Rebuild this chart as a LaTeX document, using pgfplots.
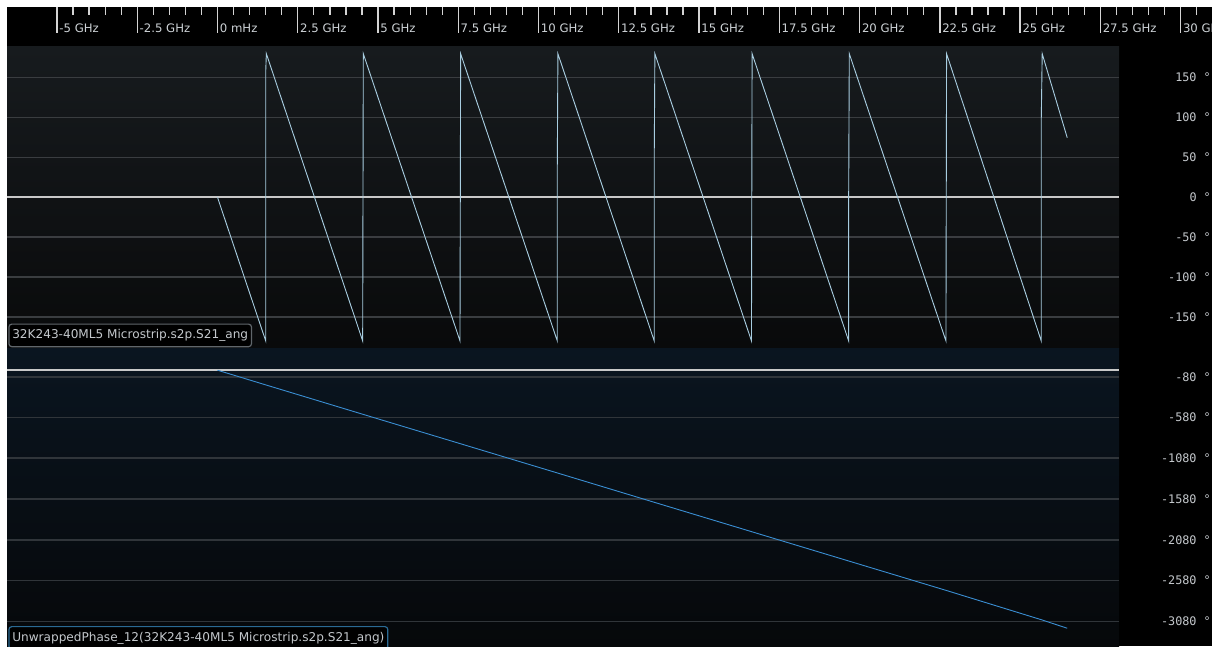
\documentclass[border=0pt]{standalone}
\usepackage{pgfplots}
\pgfplotsset{compat=1.18}
\usepackage{fontspec}
\setmainfont{DejaVu Sans}
\newfontfamily\monofont{DejaVu Sans Mono}
\definecolor{tickgray}{HTML}{D4D4D4}
\definecolor{rulertext}{HTML}{CDD2D6}
\definecolor{labgray}{HTML}{C4C8CC}
\definecolor{topA}{HTML}{171B1E}
\definecolor{topB}{HTML}{090A0B}
\definecolor{botA}{HTML}{0A1520}
\definecolor{botB}{HTML}{06080A}
\definecolor{grid1}{HTML}{3A3D40}
\definecolor{grid2}{HTML}{30353A}
\definecolor{zeroline}{HTML}{C8C8C8}
\definecolor{wrapc}{HTML}{A8CDE0}
\definecolor{unwrapc}{HTML}{3A8ED2}
\definecolor{leg1}{HTML}{60666B}
\definecolor{leg2}{HTML}{2A6A94}
\newcommand\rulerfs{\fontsize{11.7pt}{14pt}\selectfont}
\newcommand\legfs{\fontsize{12.1pt}{14pt}\selectfont}
\newcommand\yfs{\monofont\fontsize{11.8pt}{14pt}\selectfont}
\pgfplotsset{
  panel/.style={
    scale only axis, width=1112pt, xmin=-6.558, xmax=28.087,
    axis line style={draw=none}, xtick=\empty,
    ytick pos=right, yticklabel pos=right,
    major tick length=0pt, tick style={draw=none},
    ymajorgrids, clip=true,
    yticklabel style={anchor=east, xshift=92pt, inner sep=0pt, font=\yfs, text=labgray},
  }
}
\begin{document}
\begin{tikzpicture}
\path[use as bounding box] (0pt,0pt) rectangle (1212pt,-646pt);
\fill[white] (0pt,0pt) rectangle (1212pt,-646pt);
\fill[black] (1119pt,-46.7pt) rectangle (1212pt,-646pt);
% ruler
\begin{axis}[at={(7pt,-6.7pt)}, anchor=north west, scale only axis,
  width=1205pt, height=40pt, xmin=-6.558, xmax=30.978, ymin=0, ymax=1,
  axis line style={draw=none}, axis background/.style={fill=black},
  ytick=\empty,
  xtick={-5,-2.5,0,2.5,5,7.5,10,12.5,15,17.5,20,22.5,25,27.5,30},
  xticklabels={-5 GHz,-2.5 GHz,0 mHz,2.5 GHz,5 GHz,7.5 GHz,10 GHz,12.5 GHz,15 GHz,17.5 GHz,20 GHz,22.5 GHz,25 GHz,27.5 GHz,30 GHz},
  minor xtick={-4.5,-4,...,31},
  xtick pos=right, xticklabel pos=right, tick align=inside,
  major tick length=26.3pt, minor tick length=8.5pt,
  tick style={draw=tickgray, line width=1.3pt},
  xticklabel style={anchor=base west, inner sep=0pt, xshift=2.2pt, yshift=-25.6pt, font=\rulerfs, text=rulertext},
]
\addplot[draw=none] coordinates {(0,0.5)};
\end{axis}
% top panel: wrapped phase
\begin{axis}[panel, at={(7pt,-46.7pt)}, anchor=north west, height=301.6pt,
  ymin=-189.3, ymax=188.8,
  axis background/.style={top color=topA, bottom color=topB},
  major grid style={draw=grid1, line width=1.6pt},
  ytick={-150,-100,-50,50,100,150},
  yticklabels={-150 °,-100 °,-50 °,50 °,100 °,150 °},
  extra y ticks={0}, extra y tick labels={0 °},
  extra y tick style={major grid style={draw=zeroline, line width=1.8pt}},
]
\addplot[wrapc, line width=0.9pt] coordinates {
(0,0)
(1.502,-180) (1.502,157) (1.522,180)
(4.523,-180) (4.543,180)
(7.555,-180) (7.575,180)
(10.586,-180) (10.586,36) (10.606,180)
(13.607,-180) (13.607,50) (13.627,180)
(16.636,-180) (16.656,180)
(19.664,-180) (19.664,-5) (19.684,180)
(22.695,-180) (22.715,180)
(25.664,-180) (25.664,95) (25.694,180)
(26.474,74.7)
};
\node[anchor=south west, draw=leg1, fill=black, rounded corners=3pt, line width=1.2pt,
  inner xsep=3.4pt, inner ysep=0pt, minimum height=22.6pt, font=\legfs, text=labgray]
  at ([shift={(1.3pt,1pt)}]rel axis cs:0,0) {32K243-40ML5 Microstrip.s2p.S21\_ang};
\end{axis}
% bottom panel: unwrapped phase
\begin{axis}[panel, at={(7pt,-348.3pt)}, anchor=north west, height=301.7pt,
  ymin=-3432, ymax=268.6,
  axis background/.style={top color=botA, bottom color=botB},
  major grid style={draw=grid2, line width=1.6pt},
  ytick={-80,-580,-1080,-1580,-2080,-2580,-3080},
  yticklabels={-80 °,-580 °,-1080 °,-1580 °,-2080 °,-2580 °,-3080 °},
  extra y ticks={0}, extra y tick labels={},
  extra y tick style={major grid style={draw=zeroline, line width=1.8pt}},
]
\addplot[unwrapc, line width=0.9pt] coordinates {
(0,0) (1.502,-180) (4.523,-540) (7.555,-900) (10.586,-1260) (13.607,-1620)
(16.636,-1980) (19.664,-2340) (22.695,-2700) (25.664,-3060) (26.474,-3165)
};
\node[anchor=north west, draw=leg2, fill=black, rounded corners=3pt, line width=1.2pt,
  inner xsep=3.4pt, inner ysep=0pt, minimum height=22.6pt, font=\legfs, text=labgray]
  at ([shift={(1.3pt,-277.7pt)}]rel axis cs:0,1) {UnwrappedPhase\_12(32K243-40ML5 Microstrip.s2p.S21\_ang)};
\end{axis}
\end{tikzpicture}
\end{document}
